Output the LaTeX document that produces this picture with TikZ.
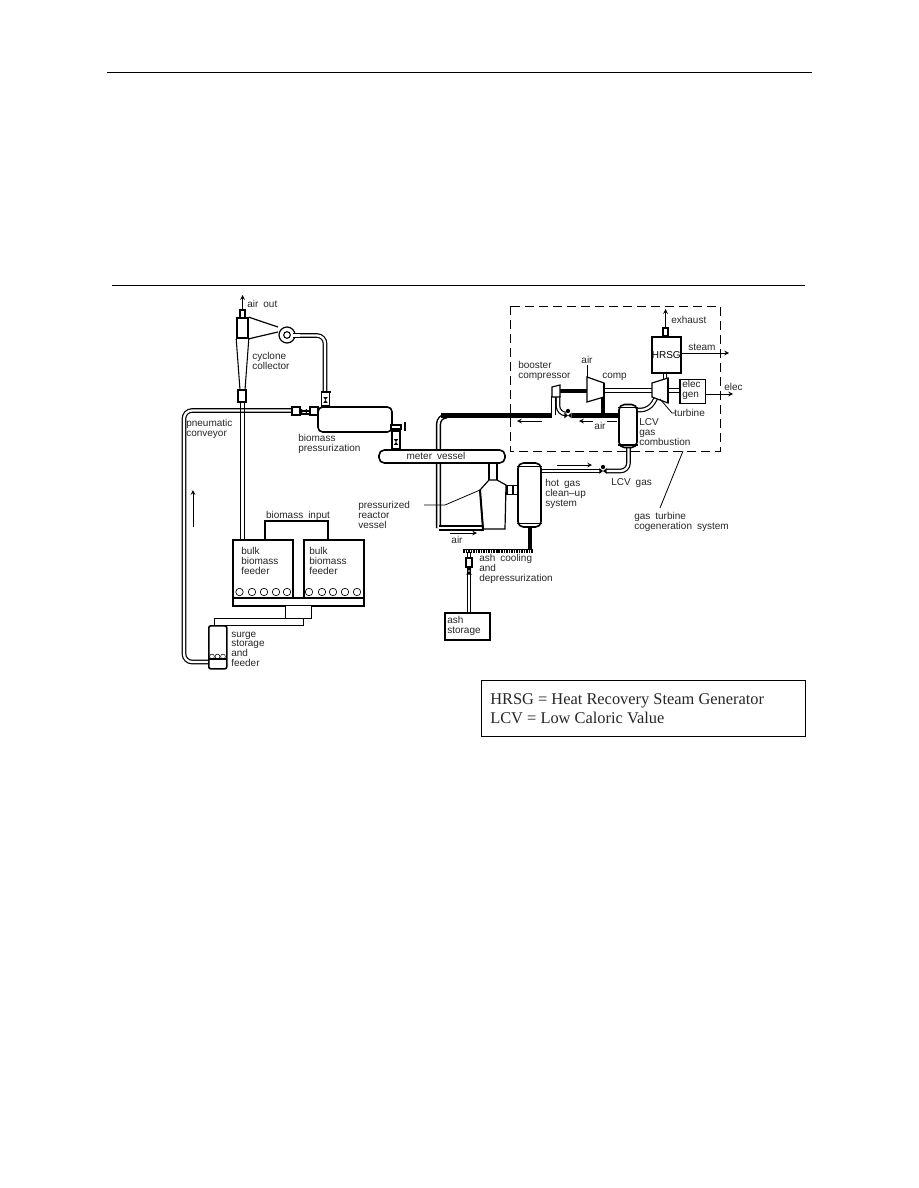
\documentclass[tikz,border=0pt]{standalone}
\usepackage{fontspec}
\setmainfont{Liberation Sans}[WordSpace=1.8]
\newfontfamily\legendfont{Liberation Serif}
\usetikzlibrary{calc,positioning,arrows}

\begin{document}
\begin{tikzpicture}[x=0.75pt,y=-0.75pt,>=stealth,
  lbl/.style={anchor=west, inner sep=0pt, align=left, font=\fontsize{7.5}{7.2}\selectfont, text=black!85},
  box/.style 2 args={draw, line width=1.2pt, fill=white, inner sep=0pt, minimum width=#1*0.75pt, minimum height=#2*0.75pt},
  vsl/.style 2 args={box={#1}{#2}, rounded corners=3.5pt},
  pipe/.style={draw, line width=.9pt, double, double distance=1.7pt, rounded corners=6pt},
  thk/.style={line width=3.4pt},
  thn/.style={line width=.6pt},
  rule/.style={line width=.7pt},
  vlv/.pic={\fill (-3.6,-2.8) -- (3.6,2.8) -- (3.6,-2.8) -- (-3.6,2.8) -- cycle;}]
\useasboundingbox (0,0) rectangle (918,1188);

\coordinate (r1a) at (107,72); \coordinate (r1b) at (812,72);
\coordinate (r2a) at (112,285); \coordinate (r2b) at (805,285);
\draw[rule] (r1a) -- (r1b);
\draw[rule] (r2a) -- (r2b);

% pipes first, the vessels sit on top
\coordinate (cvstart) at (292,410.5);
\coordinate (cvend) at (208,662);
\draw[pipe] (cvstart) -- (184,410.5) -- (184,662) -- (cvend);
\draw[line width=1.2pt] (240.5,402) -- (240.5,539);
\draw[line width=1.3pt] (244.5,402) -- (244.5,539);
\draw[pipe] (287,335.5) -- (325,335.5) -- (325,392);
\draw[pipe, line width=1.1pt] (438.5,528) -- (438.5,416) -- (445,416);
\draw[thk] (441,415.5) -- (552,415.5);
\draw[pipe] (553.5,415) -- (553.5,396);
\draw[pipe] (558,396) -- (558,414) -- (564,414);
\draw[thk] (572,415.5) -- (619,415.5);
\draw[line width=3pt] (602.5,396) -- (602.5,414);
\draw[line width=1.4pt] (598,414) -- (608,414);
\draw[pipe, line width=1.1pt] (438.5,528) -- (484,528);
\draw[pipe] (541,471) -- (600,471);
\draw[pipe] (606,471) -- (628.5,471) -- (628.5,447);
\draw[pipe] (637,410) -- (649,410) -- (656,398);
\draw[line width=3pt] (530,527) -- (530,549);
\draw[pipe] (469,552) -- (469,612);

% cyclone and blower
\coordinate (out) at (242.5,295);
\node[box={5}{8}] (stack) at (242.5,314) {};
\draw[->,thn] (stack.north) -- (out);
\node[box={11}{20}] (cyc) at (242.5,328) {};
\draw[line width=.8pt] (cyc.south west) -- (240,390);
\draw[line width=.8pt] (cyc.south east) -- (245,390);
\node[box={8}{12}] (dip) at (242,396) {};
\node[draw, circle, line width=.9pt, fill=white, inner sep=0pt, minimum size=12pt] (blower) at (287,335) {};
\node[draw, circle, line width=.8pt, fill=white, inner sep=0pt, minimum size=5pt] (eye) at (287,335) {};
\draw[line width=.9pt] (cyc.north east) -- (278,327);
\draw[line width=.9pt] (cyc.south east) -- (278,332);
\draw[pipe,rounded corners=0pt] (293,335.5) -- (300,335.5);
\node[lbl] (lout) at (247,304) {air out};
\node[lbl] (lcyc) at (252,361) {cyclone\\collector};

% biomass pressurization vessel
\node[box={8}{14}, line width=.9pt] (pv1) at (325.5,399) {};
\pic[rotate=90,scale=.8] at (325.5,400) {vlv};
\draw[line width=1.4pt] (320.5,392) -- (330.5,392);
\node[box={8}{18}, line width=.9pt] (pv2) at (396,440) {};
\pic[rotate=90,scale=.8] at (396,442) {vlv};
\draw[line width=1.3pt] (391,431.5) -- (401,431.5);
\node[vsl={74}{25}] (press) at (355,419.5) {};
\node[box={8}{8}, line width=.9pt] (hb1) at (296,411) {};
\node[box={8}{8}, line width=.9pt] (hb2) at (314,411) {};
\draw[line width=.9pt] (hb1) -- (hb2);
\draw[line width=.9pt] (300,414) -- (310,414);
\pic[scale=.8] at (304,411) {vlv};
\node[box={10}{4}, line width=.9pt] (spout) at (396,427) {};
\draw[line width=1.4pt] (405,422) -- (405,431);
\node[lbl] (lpress) at (298,444) {biomass\\pressurization};
\node[lbl] (lpneu) at (186,429) {pneumatic\\conveyor};
\coordinate (upa) at (193,527); \coordinate (upb) at (193,490);
\draw[->,thn] (upa) -- (upb);

% feeders
\node[box={60}{58}, anchor=north west] (feed1) at (232,539) {};
\node[box={60}{58}, anchor=north west] (feed2) at (303,539) {};
\node[box={131}{8}, anchor=north west] (base) at (232,597) {};
\node[lbl] (lf1) at (241,561) {bulk\\biomass\\feeder};
\node[lbl] (lf2) at (309,561) {bulk\\biomass\\feeder};
\foreach \i/\xa in {1/239.5,2/252,3/264,4/276,5/287}
  \node[draw, circle, line width=.5pt, inner sep=0pt, minimum size=5.6pt] (ca\i) at (\xa,592) {};
\foreach \i/\xa in {1/309,2/322,3/333,4/345,5/357}
  \node[draw, circle, line width=.5pt, inner sep=0pt, minimum size=5.6pt] (cb\i) at (\xa,592) {};
\draw[line width=.8pt] (265,539) -- (265,521) -- (328,521) -- (328,539);
\node[lbl, anchor=center] (lbio) at (298,516) {biomass input};
\node[box={26}{13}, anchor=north west, line width=.9pt] (link) at (285,605) {};
\node[box={89}{7}, anchor=north west, line width=1pt] (chute) at (214,618) {};
\node[box={18}{43}, anchor=north west, rounded corners=1.5pt] (surge) at (208,625) {};
\coordinate (sa) at (208,659); \coordinate (sb) at (226,659);
\draw[line width=1pt] (sa) -- (sb);
\foreach \i/\xa in {1/212,2/217.5,3/223}
  \node[draw, circle, line width=.4pt, inner sep=0pt, minimum size=3.6pt] (cs\i) at (\xa,656.5) {};
\node[lbl] (lsurge) at (231,649) {surge\\storage\\and\\feeder};

% meter vessel and reactor
\node[box={8}{18}, line width=.9pt] (neck) at (493,472) {};
\node[vsl={126}{13}, rounded corners=4pt] (meter) at (442,456.5) {};
\node[lbl, anchor=center] (lmeter) at (436,456) {meter vessel};
\draw[fill=white, line width=.9pt] (489,480) -- (497,480) -- (506,485) -- (505,529) -- (483,529) -- (480,490) -- cycle;
\draw[line width=1.5pt] (480,490) -- (483,529);
\node[box={11}{9}, line width=.9pt] (side) at (512.5,490) {};
\draw[line width=1.5pt] (side.north) -- (side.south);
\node[lbl] (lreact) at (358,515) {pressurized\\reactor\\vessel};
\coordinate (la) at (424,505); \coordinate (lb) at (445,505); \coordinate (lc) at (480,490);
\draw[thn] (la) -- (lb) -- (lc);
\coordinate (aira) at (450,533); \coordinate (airb) at (477,533);
\draw[->,thn] (aira) -- (airb);
\node[lbl, anchor=center] (lair) at (457,540) {air};

% hot gas vessel
\node[vsl={23}{64}, rounded corners=4pt] (hot) at (529.5,495) {};
\draw[line width=.9pt] ([yshift=-3pt]hot.north west) -- ([yshift=-3pt]hot.north east);
\draw[line width=.9pt] ([yshift=3pt]hot.south west) -- ([yshift=3pt]hot.south east);
\node[lbl] (lhot) at (545,494) {hot gas\\clean--up\\system};
\coordinate (gasa) at (557,465); \coordinate (gasb) at (592,465);
\draw[->,thn] (gasa) -- (gasb);
\pic at (603,471) {vlv};
\fill (603,467) circle (1.6pt);
\node[lbl] (llcv) at (611,483) {LCV gas};

% ash line
\coordinate (asha) at (463,549.5); \coordinate (ashb) at (533,549.5);
\draw[line width=1.2pt] (asha) -- (ashb);
\draw[line width=1.6pt, dash pattern=on 1.2pt off .7pt] (463,551.5) -- (533,551.5);
\node[box={6}{9}, line width=.8pt] (ashv) at (469,562.5) {};
\pic[rotate=90] at (469,571) {vlv};
\node[lbl] (lash) at (479,569) {ash cooling\\and\\depressurization};
\node[box={45}{27}, anchor=north west] (ashbox) at (444,612) {};
\node[lbl] (lstore) at (447,626) {ash\\storage};

% gas turbine package
\coordinate (d1) at (510,306); \coordinate (d2) at (720,451);
\draw[line width=.6pt, dash pattern=on 7pt off 3.5pt] (d1) rectangle (d2);
\draw[thk] (560,391) -- (587,391);
\draw[pipe,rounded corners=0pt] (604,390.5) -- (652,390.5);
\draw[pipe,rounded corners=0pt] (668,390.5) -- (680,390.5);
\draw[pipe,rounded corners=0pt] (665,372) -- (665,380);
\draw[fill=white, line width=.9pt] (552,387) -- (560,385) -- (560,397) -- (552,397) -- cycle;
\draw[fill=white, line width=.9pt] (587,377) -- (604,383) -- (604,397) -- (587,402) -- cycle;
\draw[line width=1.5pt] (604,383) -- (604,397);
\draw[fill=white, line width=.9pt] (652,383) -- (668,378) -- (668,403) -- (652,397) -- cycle;
\draw[line width=1.5pt] (668,378) -- (668,403);
\pic at (568,415.5) {vlv};
\fill (568,411) circle (1.6pt);
\coordinate (aircomp) at (587,365);
\draw[thn] (587,377) -- (aircomp);
\node[lbl, anchor=center] (lair2) at (587,360) {air};
\node[lbl] (lcomp) at (602,377) {comp};
\node[lbl] (lboost) at (518,371) {booster\\compressor};
\node[box={29}{36}, anchor=north west, font=\fontsize{7.5}{9}\selectfont] (hrsg) at (651,336) {HRSG};
\node[box={5}{8}, line width=.8pt] (hstack) at (665.5,332) {};
\coordinate (exh) at (665.5,309);
\draw[->,thn] (hstack.north) -- (exh);
\node[lbl] (lexh) at (671,320) {exhaust};
\coordinate (stm) at (729,353);
\draw[->,thn] (hrsg.east |- stm) -- (stm);
\node[lbl] (lstm) at (688,347) {steam};
\node[box={25}{24}, anchor=north west, line width=.9pt] (gen) at (680,379) {};
\draw[line width=1.4pt] (gen.north west) -- (gen.south west);
\node[lbl] (lgen) at (682,390) {elec\\gen};
\coordinate (elc) at (733,394);
\draw[->,thn] (gen.east |- elc) -- (elc);
\node[lbl] (lelc) at (724,387) {elec};
\node[vsl={18}{43}, rounded corners=4pt] (comb) at (628,426) {};
\draw[line width=.9pt] ([yshift=-3pt]comb.north west) -- ([yshift=-3pt]comb.north east);
\draw[line width=.9pt] ([yshift=2.5pt]comb.south west) -- ([yshift=2.5pt]comb.south east);
\node[lbl] (lcomb) at (639,432) {LCV\\gas\\combustion};
\coordinate (ta) at (660,399); \coordinate (tb) at (672,413); \coordinate (tc) at (675,413);
\draw[thn] (ta) -- (tb) -- (tc);
\node[lbl] (lturb) at (674,413) {turbine};
\coordinate (aa) at (517,421); \coordinate (ab) at (542,421);
\draw[<-,thn] (aa) -- (ab);
\coordinate (ac) at (579,421); \coordinate (ad) at (617,421);
\draw[<-,thn] (ac) -- (ad);
\node[lbl, anchor=center, fill=white, inner sep=1pt] (lair3) at (600,426) {air};
\coordinate (ga) at (683,451); \coordinate (gb) at (660,508);
\draw[thn] (ga) -- (gb);
\node[lbl] (lgt) at (634,522) {gas turbine\\cogeneration system};

% legend
\node[draw, line width=.8pt, anchor=north west, inner sep=0pt, minimum width=243pt, minimum height=42pt] (legend) at (481,680) {};
\node[anchor=west, inner sep=0pt, align=left, font=\legendfont\fontsize{12.3}{14.2}\selectfont, text=black!85] (ltxt) at (490,708.5) {HRSG = Heat Recovery Steam Generator\\LCV = Low Caloric Value};
\end{tikzpicture}
\end{document}
